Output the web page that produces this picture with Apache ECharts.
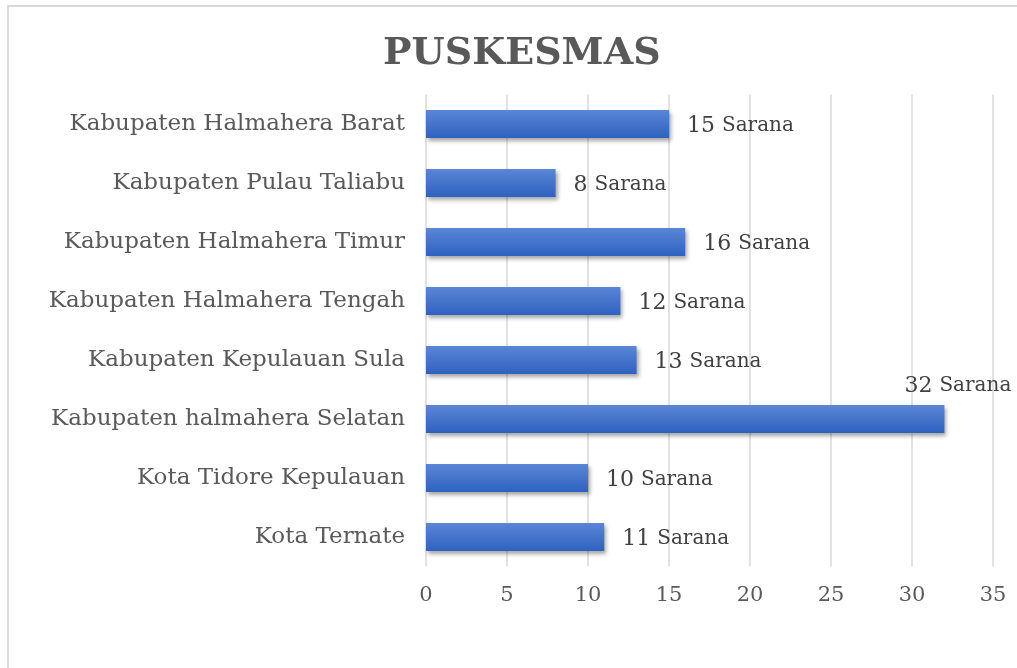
<!DOCTYPE html>
<html>
<head>
<meta charset="utf-8">
<script src="https://cdn.jsdelivr.net/npm/echarts@6/dist/echarts.min.js"></script>
<style>html,body{margin:0;padding:0;background:#fff}#c{width:1017px;height:668px}</style>
</head>
<body>
<div id="c"></div>
<script>
var categories = ['Kota Ternate','Kota Tidore Kepulauan','Kabupaten halmahera Selatan','Kabupaten Kepulauan Sula','Kabupaten Halmahera Tengah','Kabupaten Halmahera Timur','Kabupaten Pulau Taliabu','Kabupaten Halmahera Barat'];
var values = [11, 10, 32, 13, 12, 16, 8, 15];
var unitLabel = 'Sarana';
var titleText = 'PUSKESMAS';

var font = 'DejaVu Serif';
var chart = echarts.init(document.getElementById('c'));
var data = values.map(function (v, i) {
  var item = { value: v };
  if (v === 32) {
    item.label = { position: 'right', offset: [-58, -33] };
  }
  return item;
});
chart.setOption({
  animation: false,
  graphic: [{
    type: 'rect', shape: { x: 8, y: 6, width: 1100, height: 800 },
    style: { fill: 'none', stroke: '#d9d9d9', lineWidth: 2 }, silent: true
  }],
  title: {
    text: titleText, left: 378, top: 30,
    textStyle: { fontFamily: font, fontSize: 38, fontWeight: 'bold', color: '#595959' }
  },
  grid: { left: 426, right: 24, top: 94.5, bottom: 101.5, containLabel: false },
  xAxis: {
    type: 'value', min: 0, max: 35, interval: 5,
    axisLine: { show: false }, axisTick: { show: false },
    splitLine: { lineStyle: { color: '#d9d9d9', width: 1.5 } },
    axisLabel: { fontFamily: font, fontSize: 21, color: '#595959', margin: 19 }
  },
  yAxis: {
    type: 'category', data: categories,
    axisLine: { show: false }, axisTick: { show: false },
    axisLabel: { fontFamily: font, fontSize: 23, color: '#595959', margin: 21 }
  },
  series: [{
    type: 'bar', data: data, barWidth: 28,
    itemStyle: {
      color: new echarts.graphic.LinearGradient(0, 0, 0, 1, [
        { offset: 0, color: '#5a86d6' },
        { offset: 1, color: '#2e62c0' }
      ]),
      shadowColor: 'rgba(0,0,0,0.35)', shadowBlur: 4, shadowOffsetX: 2, shadowOffsetY: 3
    },
    label: {
      show: true, position: 'right', distance: 18, offset: [0, 2],
      formatter: function (p) { return '{n|' + p.value + '}{u|' + unitLabel + '}'; },
      rich: {
        n: { fontFamily: font, fontSize: 22, color: '#404040', padding: [0, 7, 0, 0] },
        u: { fontFamily: font, fontSize: 20, color: '#404040' }
      }
    }
  }]
});
</script>
</body>
</html>
